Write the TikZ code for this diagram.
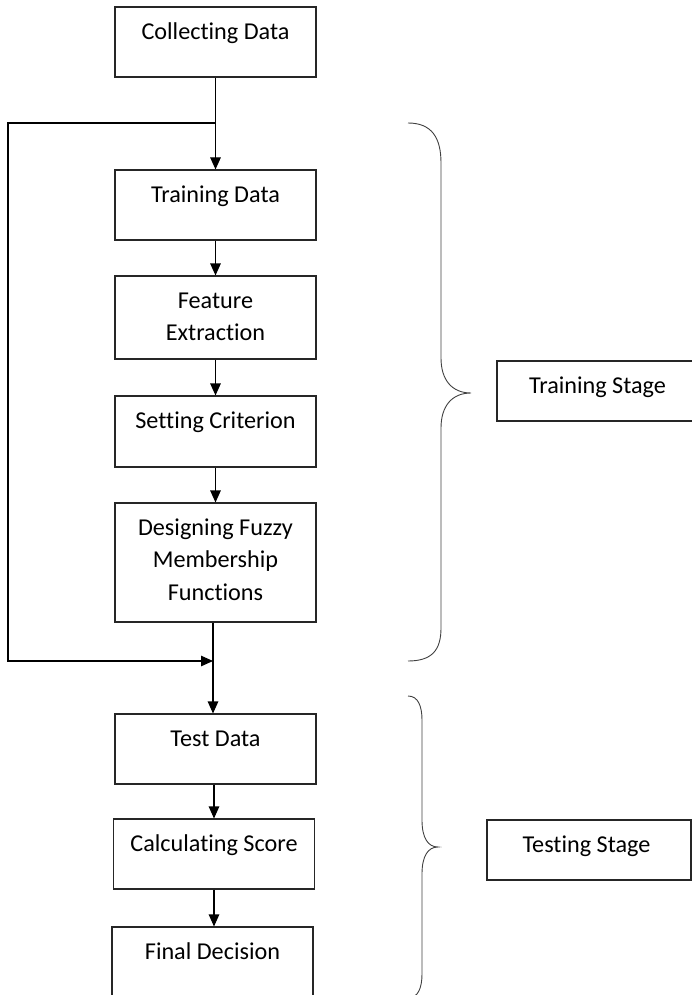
\documentclass[tikz,border=0pt]{standalone}
\usepackage{fontspec}
\setmainfont{Carlito}[Ligatures={NoCommon}]
\usetikzlibrary{arrows.meta}
\begin{document}
\begin{tikzpicture}[x=1pt,y=1pt,
  box/.style={rectangle, draw=black!85, line width=1.1pt, minimum width=201pt, inner sep=0pt},
  txt/.style={anchor=north, yshift=-9.6pt, inner sep=0pt, align=center, font=\fontsize{24.2}{32.7}\selectfont, text=black},
  flow/.style={line width=1.1pt, draw=black, -{Triangle[length=12pt,width=10.5pt]}},
  brace/.style={draw=black!75, line width=0.9pt},
]
\clip (0,0) rectangle (692,-995);
% flow boxes
\node[box, minimum height=70pt, label={[txt]north:\strut Collecting Data}] (cd) at (215.5,-42) {};
\node[box, minimum height=70pt, label={[txt]north:\strut Training Data}] (td) at (215.5,-205) {};
\node[box, minimum height=83pt, label={[txt]north:\strut Feature\\\strut Extraction}] (fe) at (215.5,-317.5) {};
\node[box, minimum height=71pt, label={[txt]north:\strut Setting Criterion}] (sc) at (215.5,-431.5) {};
\node[box, minimum height=119pt, label={[txt]north:\strut Designing Fuzzy\\\strut Membership\\\strut Functions}] (df) at (215.5,-562.5) {};
\node[box, minimum height=70pt, label={[txt]north:\strut Test Data}] (ted) at (215.5,-749) {};
\node[box, minimum height=70pt, label={[txt]north:\strut Calculating Score}] (cs) at (214,-854) {};
\node[box, minimum height=70pt, label={[txt]north:\strut Final Decision}] (fd) at (212.5,-962) {};
% stage boxes
\node[box, minimum height=60pt, label={[txt]north:\strut Training Stage}] (trs) at (597.5,-391) {};
\node[box, minimum width=204pt, minimum height=60pt, label={[txt, xshift=-2.5pt]north:\strut Testing Stage}] (tes) at (589,-850) {};
% loop coordinates
\coordinate (j1) at (215.5,-123);
\coordinate (lt) at (8,-123);
\coordinate (lb) at (8,-661);
\coordinate (j2) at (213,-661);
% connectors
\draw[flow] (cd.south) -- (td.north);
\draw[flow] (j1) -- (lt) -- (lb) -- (j2);
\draw[flow] (td.south) -- (fe.north);
\draw[flow] (fe.south) -- (sc.north);
\draw[flow] (sc.south) -- (df.north);
\draw[flow] (df.south -| j2) -- (ted.north -| j2);
\draw[flow] (ted.south -| cs.north) -- (cs.north);
\draw[flow] (cs.south) -- (cs.south |- fd.north);
% braces
\draw[brace] (408,-123) .. controls (432,-123) and (441,-138) .. (441,-163) -- (441,-358)
  .. controls (441,-380) and (452,-393) .. (471,-393)
  .. controls (452,-393) and (441,-406) .. (441,-428) -- (441,-628)
  .. controls (441,-650) and (432,-661) .. (408,-661);
\draw[brace] (408,-696) .. controls (418,-696) and (422,-706) .. (422,-720) -- (422,-820)
  .. controls (422,-838) and (428,-847) .. (438,-847)
  .. controls (428,-847) and (422,-856) .. (422,-874) -- (422,-974)
  .. controls (422,-988) and (418,-998) .. (408,-998);
\end{tikzpicture}
\end{document}
